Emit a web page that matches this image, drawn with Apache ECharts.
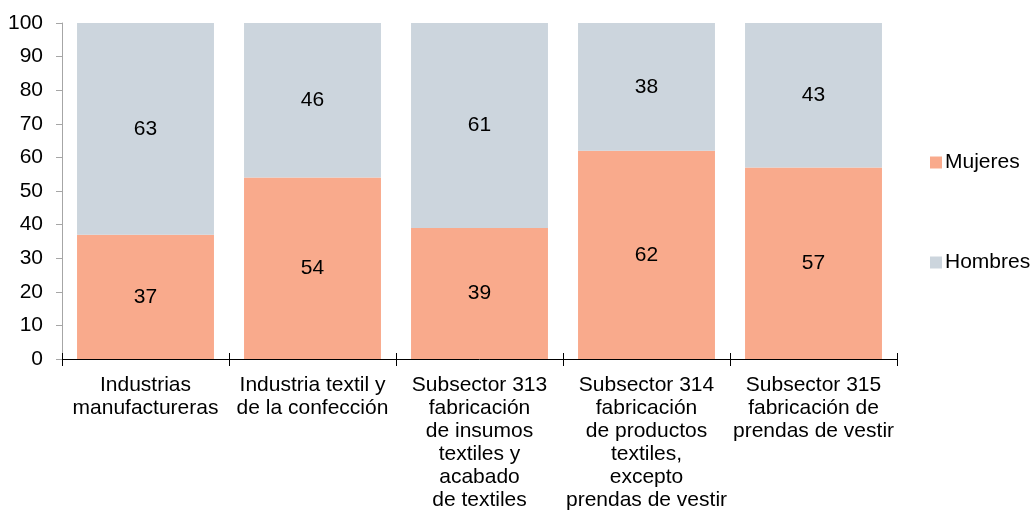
<!DOCTYPE html>
<html>
<head>
<meta charset="utf-8">
<script src="https://cdn.jsdelivr.net/npm/echarts@6/dist/echarts.min.js"></script>
<style>
  html, body { margin: 0; padding: 0; background: #fff; }
  #chart { width: 1032px; height: 518px; }
</style>
</head>
<body>
<div id="chart"></div>
<script>
// categorías del eje x
const categories = [
  "Industrias\nmanufactureras",
  "Industria textil y\nde la confección",
  "Subsector 313\nfabricación\nde insumos\ntextiles y\nacabado\nde textiles",
  "Subsector 314\nfabricación\nde productos\ntextiles,\nexcepto\nprendas de vestir",
  "Subsector 315\nfabricación de\nprendas de vestir"
];
// porcentajes
const mujeres = [37, 54, 39, 62, 57];
const hombres = [63, 46, 61, 38, 43];

const font = "Liberation Sans, Arial, sans-serif";
const fs = 21;
const chart = echarts.init(document.getElementById("chart"));

const labelStyle = {
  show: true,
  position: "inside",
  color: "#000",
  fontSize: fs,
  fontFamily: font
};

chart.setOption({
  animation: false,
  textStyle: { fontFamily: font },
  legend: {
    orient: "vertical",
    left: 925,
    top: 147,
    itemGap: 79,
    itemWidth: 12,
    itemHeight: 12,
    icon: "rect",
    textStyle: { fontSize: fs, color: "#000", fontFamily: font, padding: [0, 0, 0, -2] },
    data: ["Mujeres", "Hombres"]
  },
  grid: { left: 62, right: 135, top: 23, bottom: 159 },
  xAxis: [
    {
      type: "category",
      data: categories,
      axisLine: { lineStyle: { color: "#000", width: 1 } },
      axisTick: { show: true, length: 7, lineStyle: { color: "#000" } },
      axisLabel: {
        color: "#000",
        fontSize: fs,
        lineHeight: 23,
        margin: 15,
        interval: 0,
        align: "center"
      }
    },
    {
      // marcas hacia arriba
      type: "category",
      data: categories,
      position: "bottom",
      axisLine: { show: false },
      axisTick: { show: true, inside: true, length: 6, lineStyle: { color: "#000" } },
      axisLabel: { show: false }
    }
  ],
  yAxis: {
    type: "value",
    min: 0,
    max: 100,
    interval: 10,
    axisLine: { show: true, lineStyle: { color: "#a6a6a6" } },
    axisTick: { show: true, length: 6, lineStyle: { color: "#a6a6a6" } },
    splitLine: { show: false },
    axisLabel: { color: "#000", fontSize: fs, margin: 19 }
  },
  series: [
    {
      name: "Mujeres",
      type: "bar",
      stack: "total",
      barCategoryGap: "18%",
      itemStyle: { color: "#f9aa8c" },
      label: labelStyle,
      data: mujeres
    },
    {
      name: "Hombres",
      type: "bar",
      stack: "total",
      barCategoryGap: "18%",
      itemStyle: { color: "#ccd5dd" },
      label: labelStyle,
      data: hombres
    }
  ]
});
</script>
</body>
</html>
